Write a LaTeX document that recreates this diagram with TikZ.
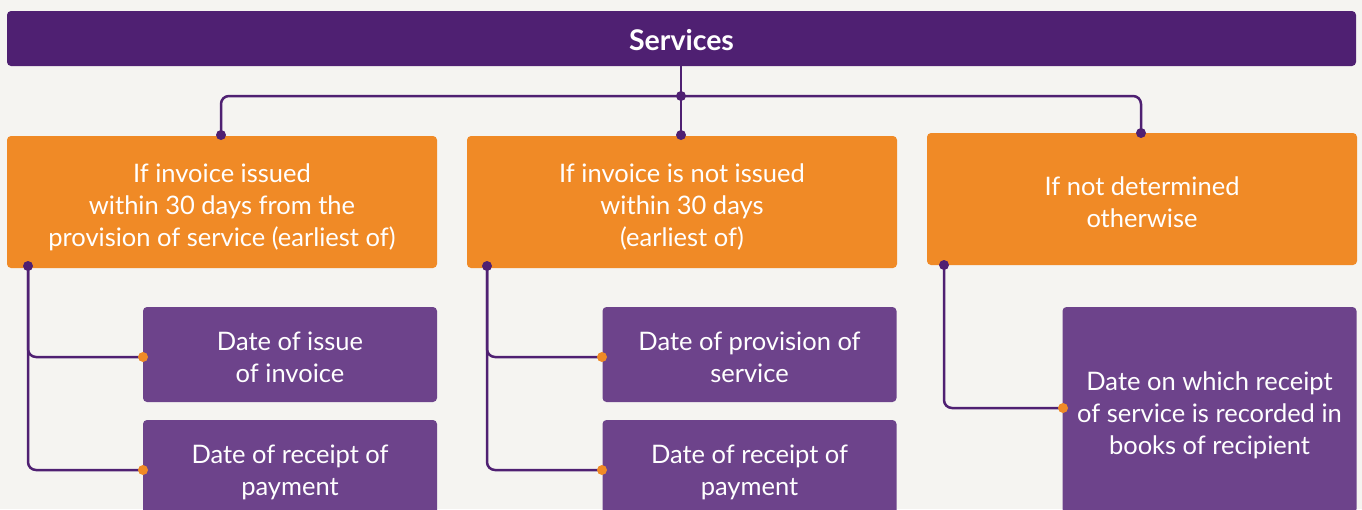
\documentclass[tikz,border=0pt]{standalone}
\usepackage{fontspec}
\setmainfont{Lato}
\definecolor{bg}{HTML}{F5F4F1}
\definecolor{dpurple}{HTML}{4F2072}
\definecolor{orng}{HTML}{F08A26}
\definecolor{mpurple}{HTML}{6D438B}
\tikzset{
  topbox/.style={fill=dpurple, rounded corners=4pt, minimum width=1349pt, minimum height=55pt, inner sep=0pt},
  toptext/.style={text=white, inner sep=0pt, yshift=-2pt, font=\fontsize{28.5}{32}\selectfont\bfseries},
  obox/.style={fill=orng, rounded corners=4pt, minimum width=430pt, inner sep=0pt},
  pbox/.style={fill=mpurple, rounded corners=4pt, minimum width=294pt, inner sep=0pt},
  btext/.style={text=white, inner sep=0pt, align=center, text depth=0pt, yshift=-3pt, font=\fontsize{25.5}{32}\selectfont},
  conn/.style={draw=dpurple, line width=2.5pt, rounded corners=8pt},
  pdot/.style={circle, fill=dpurple, inner sep=0pt, minimum size=10pt},
  odot/.style={circle, fill=orng, inner sep=0pt, minimum size=10pt}
}
\begin{document}
\begin{tikzpicture}[x=1pt,y=-1pt]
\useasboundingbox (0,0) rectangle (1362,509);
\clip (0,0) rectangle (1362,509);
\fill[bg] (0,0) rectangle (1362,509);
% boxes
\node[topbox, label={[toptext]center:Services}] (top) at (681.5,38.5) {};
\node[obox, minimum height=132pt, label={[btext]center:{If invoice issued\\within 30 days from the\\provision of service (earliest of)}}] (o1) at (222,202) {};
\node[obox, minimum height=132pt, label={[btext]center:{If invoice is not issued\\within 30 days\\(earliest of)}}] (o2) at (682,202) {};
\node[obox, minimum height=132pt, label={[btext]center:{If not determined\\otherwise}}] (o3) at (1142,199) {};
\node[pbox, minimum height=95pt, label={[btext]center:{Date of issue\\of invoice}}] (pa) at (290,354.5) {};
\node[pbox, minimum height=95pt, label={[btext]center:{Date of receipt of\\payment}}] (pb) at (290,467.5) {};
\node[pbox, minimum height=95pt, label={[btext]center:{Date of provision of\\service}}] (pc) at (749.5,354.5) {};
\node[pbox, minimum height=95pt, label={[btext]center:{Date of receipt of\\payment}}] (pd) at (749.5,467.5) {};
\node[pbox, minimum height=206pt, label={[btext]center:{Date on which receipt\\of service is recorded in\\books of recipient}}] (pe) at (1209.5,410) {};
% connector anchors
\coordinate (hub) at (681,96);
\coordinate (o1t) at (221,135);
\coordinate (o2t) at (681,135);
\coordinate (o3t) at (1141,133);
\coordinate (o1b) at (28,266);
\coordinate (o2b) at (487,266);
\coordinate (o3b) at (944,265);
\coordinate (pal) at (143,357);
\coordinate (pbl) at (143,470);
\coordinate (pcl) at (602,357);
\coordinate (pdl) at (602,470);
\coordinate (pel) at (1063,408);
% connectors
\draw[conn] (top.south -| hub) -- (o2t);
\draw[conn] (hub) -| (o1t);
\draw[conn] (hub) -| (o3t);
\draw[conn] (o1b) |- (pal);
\draw[conn] (o1b) |- (pbl);
\draw[conn] (o2b) |- (pcl);
\draw[conn] (o2b) |- (pdl);
\draw[conn] (o3b) |- (pel);
% dots
\node[pdot] (dh) at (hub) {};
\node[pdot] (d1) at (o1t) {};
\node[pdot] (d2) at (o2t) {};
\node[pdot] (d3) at (o3t) {};
\node[pdot] (d4) at (o1b) {};
\node[pdot] (d5) at (o2b) {};
\node[pdot] (d6) at (o3b) {};
\node[odot] (e1) at (pal) {};
\node[odot] (e2) at (pbl) {};
\node[odot] (e3) at (pcl) {};
\node[odot] (e4) at (pdl) {};
\node[odot] (e5) at (pel) {};
\end{tikzpicture}
\end{document}
